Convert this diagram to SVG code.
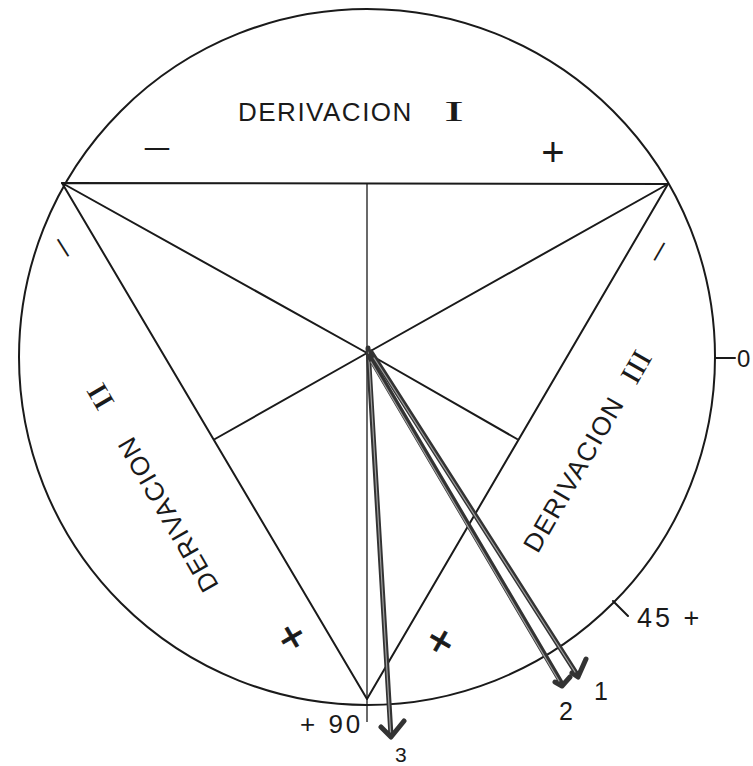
<svg xmlns="http://www.w3.org/2000/svg" width="753" height="766" viewBox="0 0 753 766">
<style>
.ln{fill:none;stroke:#1a1a1a;stroke-width:2;stroke-linecap:round;stroke-linejoin:round}
.thin{fill:none;stroke:#1a1a1a;stroke-width:1.3}
.arr{fill:none;stroke:#333;stroke-width:5;stroke-linecap:round;stroke-linejoin:round}
.arrin{fill:none;stroke:#a0a0a0;stroke-width:1.2;stroke-linecap:round}
.lbl{font-family:"Liberation Sans",Arial,sans-serif;font-size:26px;fill:#1a1a1a;letter-spacing:1.5px}
.rom{font-family:"Liberation Serif","Times New Roman",serif;font-size:29px;fill:#1a1a1a}
.sg{font-family:"Liberation Sans",Arial,sans-serif;fill:#1a1a1a}
.num{font-family:"Liberation Sans",Arial,sans-serif;fill:#1a1a1a}
</style>
<rect width="753" height="766" fill="#fff"/>
<g id="circle"><circle cx="367" cy="357" r="348" class="ln"/></g>
<g id="connectors">
  <polygon points="62,183 668,184 367,699" class="ln"/>
  <path d="M62,183 L367,353 L668,184" class="ln"/>
  <path d="M215,439 L367,353 L517,439" class="ln"/>
  <path d="M367,184 L367,722" class="thin"/>
  <path d="M715,358 L735,358 M613,601 L628,616" class="ln"/>
</g>
<g id="arrows">
  <g id="arrow3">
    <path d="M368,348 L391,736 M381,727 L391,737 L404,721" class="arr"/>
    <path d="M368.5,352 L390.5,732" class="arrin"/>
  </g>
  <g id="arrow2">
    <path d="M369,356 L562,684 M555,682 L562,686 L570,677" class="arr"/>
    <path d="M371,362 L559,681" class="arrin"/>
  </g>
  <g id="arrow1">
    <path d="M371,352 L578,676 M572,673 L578,677 L586,659" class="arr"/>
    <path d="M374,358 L575,672" class="arrin"/>
  </g>
</g>
<g id="label-I">
  <text class="lbl" x="238" y="121">DERIVACION</text>
  <text class="rom" x="444" y="121" textLength="20" lengthAdjust="spacingAndGlyphs">I</text>
</g>
<g id="label-II" transform="translate(166.5,512) rotate(-120)">
  <text class="lbl" x="-90" y="9">DERIVACION</text>
  <text class="rom" x="120" y="10" textLength="26" lengthAdjust="spacingAndGlyphs">II</text>
</g>
<g id="label-III" transform="translate(573.5,474.5) rotate(-60)">
  <text class="lbl" x="-87" y="9">DERIVACION</text>
  <text class="rom" x="108" y="10" textLength="33" lengthAdjust="spacingAndGlyphs">III</text>
</g>
<g id="signs">
  <text class="sg" font-size="28" text-anchor="middle" transform="translate(157,158) scale(1.8,1)">−</text>
  <text class="sg" font-size="40" x="553" y="166" text-anchor="middle">+</text>
  <text class="sg" font-size="26" text-anchor="middle" y="8" transform="translate(62.5,248) rotate(58) scale(1.6,1)">−</text>
  <text class="sg" font-size="26" text-anchor="middle" y="8" transform="translate(660,252) rotate(-60) scale(1.6,1)">−</text>
  <text class="sg" font-size="44" stroke="#1a1a1a" stroke-width="0.8" text-anchor="middle" y="16" transform="translate(291,636) rotate(-30)">+</text>
  <text class="sg" font-size="44" stroke="#1a1a1a" stroke-width="0.8" text-anchor="middle" y="16" transform="translate(441,640) rotate(30)">+</text>
</g>
<g id="numbers">
  <text class="num" font-size="26" letter-spacing="3" x="300" y="733">+ 90</text>
  <text class="num" font-size="21" x="395" y="762">3</text>
  <text class="num" font-size="25" x="559" y="720">2</text>
  <text class="num" font-size="25" x="594" y="700">1</text>
  <text class="num" font-size="27" letter-spacing="3" x="637" y="627">45 +</text>
  <text class="num" font-size="24" x="737" y="367">0</text>
</g>
</svg>
